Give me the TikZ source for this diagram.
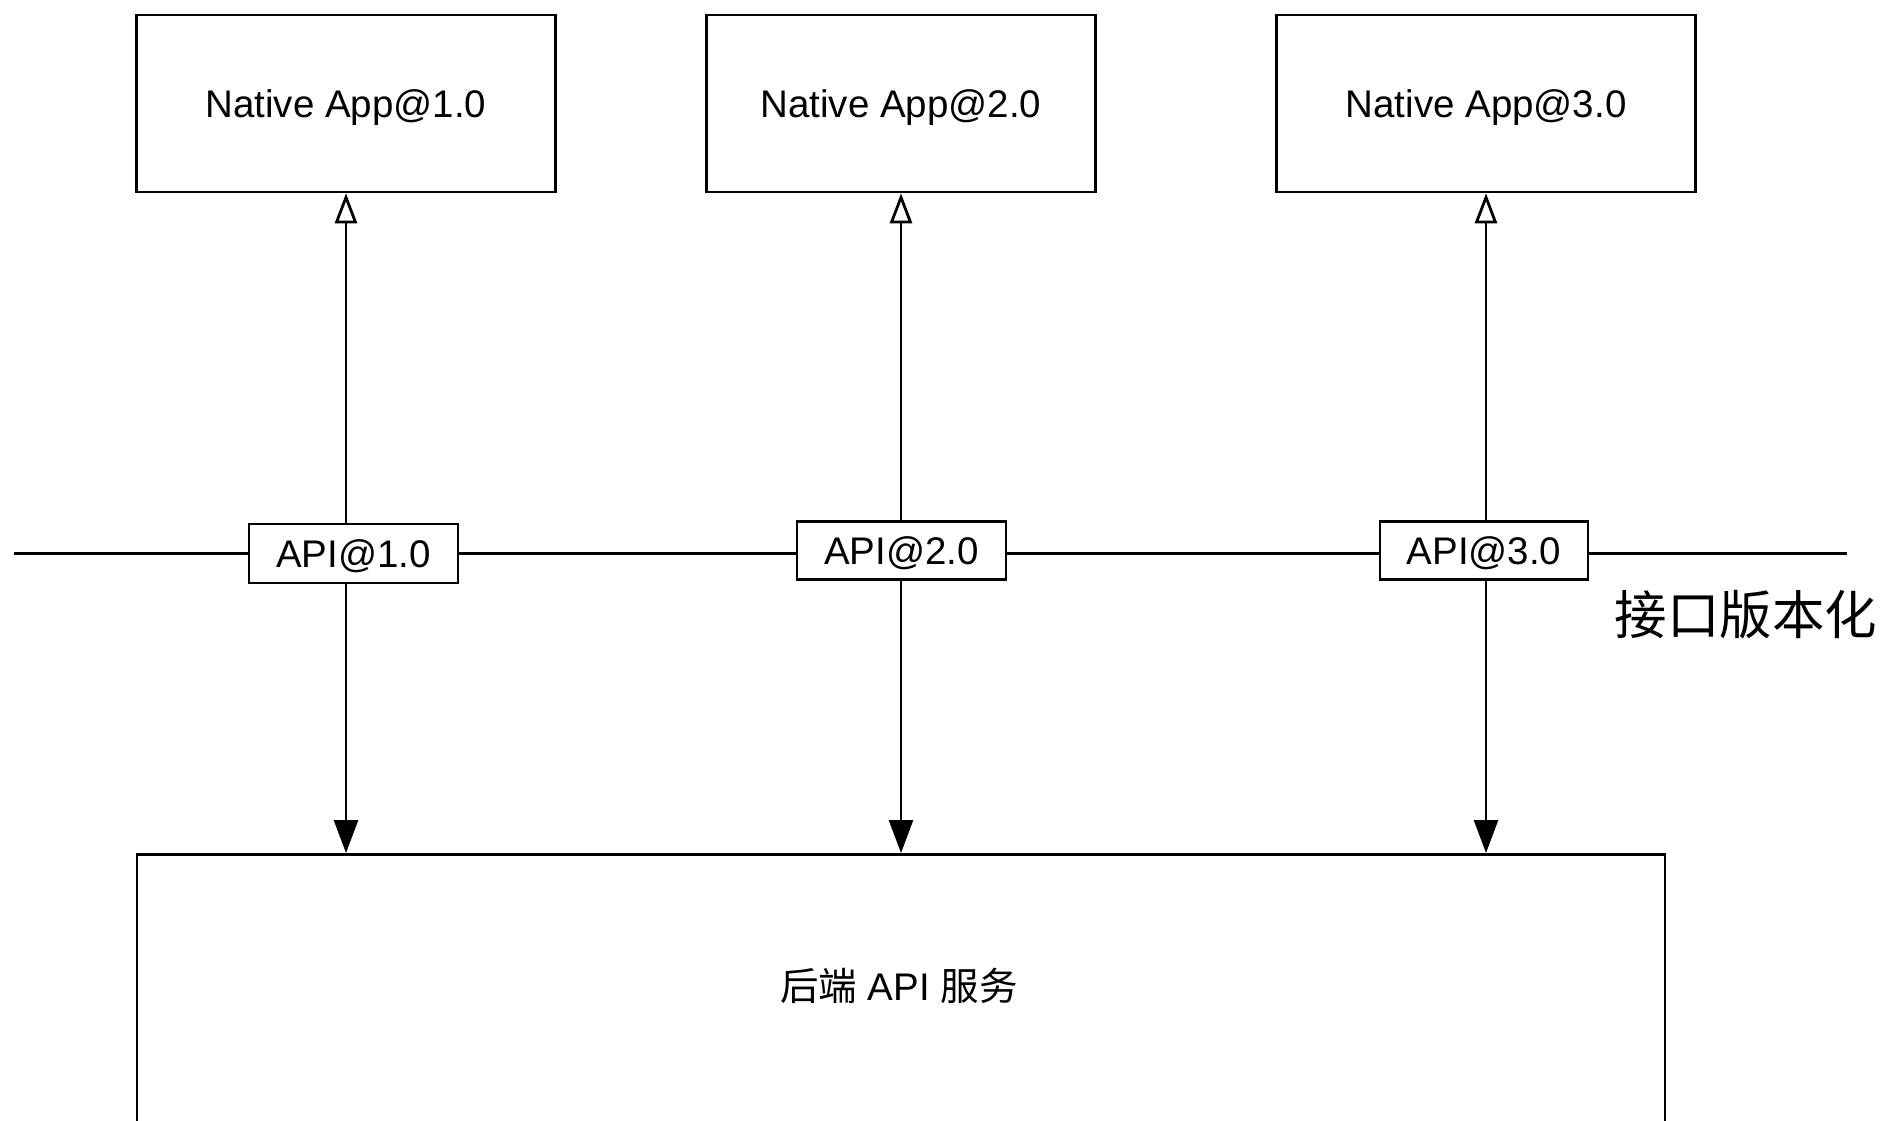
\documentclass[tikz,border=0pt]{standalone}
\usepackage{fontspec}
\setmainfont{Liberation Sans}
\newfontfamily\cjk{Noto Sans CJK SC}
\usetikzlibrary{arrows.meta}
\tikzset{
  every node/.style={inner sep=0pt},
  box/.style={draw=black, line width=2.6pt, fill=white, align=center,
    font=\fontsize{38.5}{46}\selectfont, text height=27.6pt, text depth=0pt},
  conn/.style={line width=2.6pt, draw=black},
  upar/.style={conn, -{Triangle[open, length=30pt, width=22pt, line width=2.8pt]}},
  downar/.style={conn, -{Triangle[length=33pt, width=24pt]}},
}
\begin{document}
\begin{tikzpicture}[x=1pt,y=-1pt]
\useasboundingbox (0,0) rectangle (1882,1121);
\clip (0,0) rectangle (1882,1121);
\fill[white] (0,0) rectangle (1882,1121);
% bus line
\coordinate (lineL) at (14,553.5);
\coordinate (lineR) at (1847,553.5);
\draw[conn] (lineL) -- (lineR);
% top boxes
\node[box, minimum width=419pt, minimum height=177pt] (top1) at (346,103.5) {Native App@1.0};
\node[box, minimum width=389pt, minimum height=177pt] (top2) at (901,103.5) {Native App@2.0};
\node[box, minimum width=419pt, minimum height=177pt] (top3) at (1486,103.5) {Native App@3.0};
% api boxes
\node[box, minimum width=209pt, minimum height=59pt] (api1) at (353.5,553.5) {API@1.0};
\node[box, minimum width=209pt, minimum height=58pt] (api2) at (901.5,550.5) {API@2.0};
\node[box, minimum width=208pt, minimum height=58pt] (api3) at (1484,550.5) {API@3.0};
% backend box
\node[box, anchor=north, minimum width=1528pt, minimum height=400pt] (back) at (901,853) {};
\node[font=\fontsize{38.5}{46}\selectfont, text height=27.6pt, text depth=0pt] (backtxt) at (899,987) {{\cjk 后端} API {\cjk 服务}};
% side label
\node[font=\cjk\fontsize{52.5}{60}\selectfont, anchor=base] (ver) at (1746,634) {接口版本化};
% arrows up
\draw[upar] (api1.north -| top1.south) -- (top1.south);
\draw[upar] (api2.north -| top2.south) -- (top2.south);
\draw[upar] (api3.north -| top3.south) -- (top3.south);
% arrows down
\draw[downar] (api1.south -| top1.south) -- (top1.south |- back.north);
\draw[downar] (api2.south -| top2.south) -- (top2.south |- back.north);
\draw[downar] (api3.south -| top3.south) -- (top3.south |- back.north);
\end{tikzpicture}
\end{document}
